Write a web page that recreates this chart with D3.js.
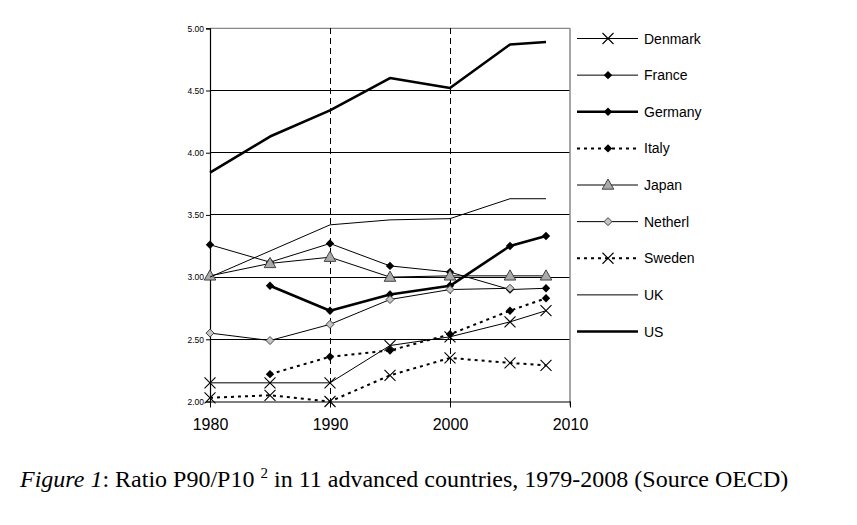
<!DOCTYPE html>
<html>
<head>
<meta charset="utf-8">
<script src="https://cdn.jsdelivr.net/npm/d3@7"></script>
<style>
  html, body { margin: 0; padding: 0; background: #fff; }
  svg { display: block; }
</style>
</head>
<body>
<svg id="chart" width="857" height="525"></svg>
<script>
// ---- data ----
const years = [1980, 1985, 1990, 1995, 2000, 2005, 2008];
const denmark = [2.15, 2.15, 2.15, 2.45, 2.52, 2.64, 2.73];
const france  = [3.26, 3.12, 3.27, 3.09, 3.04, 2.90, 2.91];
const germany = [null, 2.93, 2.73, 2.86, 2.93, 3.25, 3.33];
const italy   = [null, 2.22, 2.36, 2.41, 2.54, 2.73, 2.83];
const japan   = [3.01, 3.11, 3.16, 3.00, 3.01, 3.01, 3.01];
const netherl = [2.55, 2.49, 2.62, 2.82, 2.90, 2.91, null];
const sweden  = [2.03, 2.05, 2.00, 2.21, 2.35, 2.31, 2.29];
const uk      = [3.00, null, 3.42, 3.46, 3.47, 3.63, 3.63];
const us      = [3.84, 4.13, 4.34, 4.60, 4.52, 4.87, 4.89];
const seriesNames = ["Denmark", "France", "Germany", "Italy", "Japan", "Netherl", "Sweden", "UK", "US"];
const yTicks = [2.0, 2.5, 3.0, 3.5, 4.0, 4.5, 5.0];
const xTicks = [1980, 1990, 2000, 2010];
const dashedYears = [1990, 2000];

// ---- styles ----
const styles = {
  Denmark: {w: 1, dash: null, marker: "x"},
  France:  {w: 1, dash: null, marker: "diamond"},
  Germany: {w: 2.6, dash: null, marker: "diamond"},
  Italy:   {w: 2, dash: "3,4", marker: "diamond"},
  Japan:   {w: 1, dash: null, marker: "triangle"},
  Netherl: {w: 1, dash: null, marker: "gdiamond"},
  Sweden:  {w: 2, dash: "3,4", marker: "x"},
  UK:      {w: 1, dash: null, marker: null},
  US:      {w: 2.6, dash: null, marker: null}
};
const values = [denmark, france, germany, italy, japan, netherl, sweden, uk, us];
const series = seriesNames.map((n, i) => ({
  name: n,
  pts: years.map((yr, j) => ({yr, v: values[i][j]})).filter(d => d.v !== null)
}));

const svg = d3.select("#chart");
const x = d3.scaleLinear().domain([1980, 2010]).range([210, 570]);
const y = d3.scaleLinear().domain([2, 5]).range([401.5, 28.3]);

// gridlines
svg.append("g").selectAll("line").data(yTicks.filter(t => t > 2 && t < 5)).join("line")
  .attr("x1", x(1980)).attr("x2", x(2010))
  .attr("y1", d => y(d)).attr("y2", d => y(d))
  .attr("stroke", "#000").attr("stroke-width", 1).attr("shape-rendering", "crispEdges");
// top border (gray)
svg.append("line").attr("x1", x(1980)).attr("x2", x(2010)).attr("y1", y(5)).attr("y2", y(5))
  .attr("stroke", "#888").attr("stroke-width", 1.2);
// right border (gray)
svg.append("line").attr("x1", x(2010)).attr("x2", x(2010)).attr("y1", y(5)).attr("y2", y(2) + 4)
  .attr("stroke", "#888").attr("stroke-width", 1.5);
// dashed verticals
svg.append("g").selectAll("line").data(dashedYears).join("line")
  .attr("x1", d => x(d) + 0.5).attr("x2", d => x(d) + 0.5)
  .attr("y1", y(5)).attr("y2", y(2))
  .attr("stroke", "#000").attr("stroke-width", 1).attr("stroke-dasharray", "6,4")
  .attr("shape-rendering", "crispEdges");

// axes
const yAxis = d3.axisLeft(y).tickValues(yTicks).tickFormat(d3.format(".2f")).tickSize(4).tickPadding(2);
const gy = svg.append("g").attr("transform", `translate(${x(1980)},0)`).call(yAxis);
gy.select(".domain").attr("stroke", "#000").attr("stroke-width", 1.2);
gy.selectAll("text").attr("font-family", "Arial, 'Liberation Sans', sans-serif").attr("font-size", 8.5).attr("fill", "#000");

const xAxis = d3.axisBottom(x).tickValues(xTicks).tickFormat(d3.format("d")).tickSize(6).tickPadding(11).tickSizeOuter(0);
const gx = svg.append("g").attr("transform", `translate(0,${y(2)})`).call(xAxis);
gx.select(".domain").attr("stroke", "#000").attr("stroke-width", 1.2);
gx.selectAll("text").attr("font-family", "Arial, 'Liberation Sans', sans-serif").attr("font-size", 16).attr("fill", "#000");

// marker drawing
function drawMarker(g, type) {
  if (type === "x") {
    g.append("path").attr("d", "M-5.5,-5.5L5.5,5.5M-5.5,5.5L5.5,-5.5").attr("stroke", "#000").attr("stroke-width", 1.1).attr("fill", "none");
  } else if (type === "diamond") {
    g.append("path").attr("d", "M0,-4.2L4.2,0L0,4.2L-4.2,0Z").attr("fill", "#000");
  } else if (type === "gdiamond") {
    g.append("path").attr("d", "M0,-4L4,0L0,4L-4,0Z").attr("fill", "#c4c4c4").attr("stroke", "#333").attr("stroke-width", 0.9);
  } else if (type === "triangle") {
    g.append("path").attr("d", "M0,-6L5.8,4.2L-5.8,4.2Z").attr("fill", "#aaa").attr("stroke", "#333").attr("stroke-width", 0.9);
  }
}

const line = d3.line().x(d => x(d.yr)).y(d => y(d.v));
series.forEach(s => {
  const st = styles[s.name];
  svg.append("path").datum(s.pts).attr("d", line)
    .attr("fill", "none").attr("stroke", "#000").attr("stroke-width", st.w)
    .attr("stroke-dasharray", st.dash).attr("stroke-linejoin", "round");
  if (st.marker) {
    s.pts.forEach(p => {
      const g = svg.append("g").attr("transform", `translate(${x(p.yr)},${y(p.v)})`);
      drawMarker(g, st.marker);
    });
  }
});

// legend
const legY = d3.scaleLinear().domain([0, 8]).range([38.5, 331.5]);
seriesNames.forEach((n, i) => {
  const st = styles[n];
  const ly = legY(i);
  svg.append("line").attr("x1", 577).attr("x2", 638).attr("y1", ly).attr("y2", ly)
    .attr("stroke", "#000").attr("stroke-width", st.w).attr("stroke-dasharray", st.dash);
  if (st.marker) {
    const g = svg.append("g").attr("transform", `translate(608,${ly})`);
    drawMarker(g, st.marker);
  }
  svg.append("text").attr("x", 644).attr("y", ly).attr("dy", "0.36em")
    .attr("font-family", "Arial, 'Liberation Sans', sans-serif").attr("font-size", 14).attr("fill", "#000")
    .text(n);
});

// caption
const cap = svg.append("text").attr("x", 20).attr("y", 487)
  .attr("font-family", "'Liberation Serif', 'Times New Roman', serif").attr("font-size", 24).attr("fill", "#000");
cap.append("tspan").attr("font-style", "italic").text("Figure 1");
cap.append("tspan").text(": Ratio P90/P10 ");
cap.append("tspan").attr("font-size", 15).attr("dy", -9).text("2");
cap.append("tspan").attr("dy", 9).text(" in 11 advanced countries, 1979-2008 (Source OECD)");
</script>
</body>
</html>
